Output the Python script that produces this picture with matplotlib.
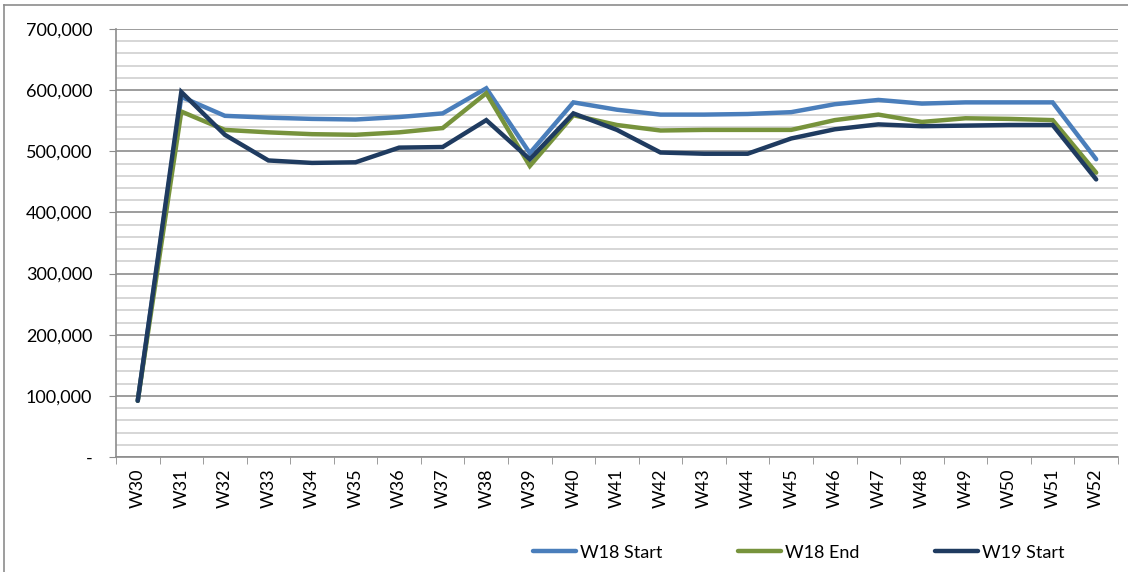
import numpy as np
import matplotlib.pyplot as plt
from matplotlib.lines import Line2D
from matplotlib.ticker import MultipleLocator, FuncFormatter

plt.rcParams['font.family'] = ['Lato', 'DejaVu Sans']

weeks = ['W%d' % w for w in range(30, 53)]

w18_start = [92000, 589000, 558000, 555000, 553000, 552000, 556000, 562000, 603000, 497000,
             580000, 568000, 560000, 560000, 561000, 564000, 577000, 584000, 578000, 580000,
             580000, 580000, 487000]
w18_end = [92000, 565000, 535000, 531000, 528000, 527000, 531000, 538000, 595000, 476000,
           559000, 543000, 534000, 535000, 535000, 535000, 551000, 560000, 548000, 554000,
           553000, 551000, 465000]
w19_start = [92000, 597000, 527000, 485000, 481000, 482000, 506000, 507000, 551000, 487000,
             562000, 535000, 498000, 496000, 496000, 521000, 536000, 544000, 541000, 542000,
             543000, 543000, 454000]

series = [('W18 Start', w18_start, '#4a7ebb'),
          ('W18 End', w18_end, '#77933c'),
          ('W19 Start', w19_start, '#1f3b60')]

fig = plt.figure(figsize=(11.28, 5.72), dpi=100)
ax = fig.add_axes([0.1028, 0.2010, 0.8883, 0.7483])

x = np.arange(len(weeks))
for name, vals, col in series:
    ax.plot(x, vals, color=col, lw=3.2, label=name, solid_capstyle='round', solid_joinstyle='miter')

ax.set_xlim(-0.5, len(weeks) - 0.5)
ax.set_ylim(0, 700000)
ax.yaxis.set_major_locator(MultipleLocator(100000))
ax.yaxis.set_minor_locator(MultipleLocator(20000))
ax.yaxis.set_major_formatter(FuncFormatter(lambda v, p: '-' if v == 0 else '{:,.0f}'.format(v)))
ax.grid(which='minor', axis='y', color='#d0d0d0', lw=1.2)
ax.grid(which='major', axis='y', color='#8c8c8c', lw=1.2)
ax.set_axisbelow(True)

ax.set_xticks(x)
ax.set_xticklabels(weeks, rotation=90, fontsize=13)
ax.set_xticks(np.arange(len(weeks) + 1) - 0.5, minor=True)
ax.tick_params(axis='x', which='major', length=0, pad=8)
ax.tick_params(axis='x', which='minor', length=5, color='#8c8c8c')
ax.tick_params(axis='y', which='major', length=5, color='#8c8c8c', labelsize=13, pad=12)
ax.tick_params(axis='y', which='minor', length=0)

for s in ['top', 'right']:
    ax.spines[s].set_visible(False)
for s in ['left', 'bottom']:
    ax.spines[s].set_color('#8c8c8c')
    ax.spines[s].set_linewidth(1.2)

fig.legend(loc='center', bbox_to_anchor=(0.708, 0.034), ncol=3, frameon=False, fontsize=13,
           handlelength=2.4, handletextpad=0.2, columnspacing=4.2)

# outer chart frame (only the left and top edges are in the crop)
fig.add_artist(Line2D([0.0035, 0.0035], [0, 0.992], transform=fig.transFigure, color='#8c8c8c', lw=1.2))
fig.add_artist(Line2D([0.0035, 1.0], [0.992, 0.992], transform=fig.transFigure, color='#8c8c8c', lw=1.2))

fig.savefig('out.png', dpi=100)
